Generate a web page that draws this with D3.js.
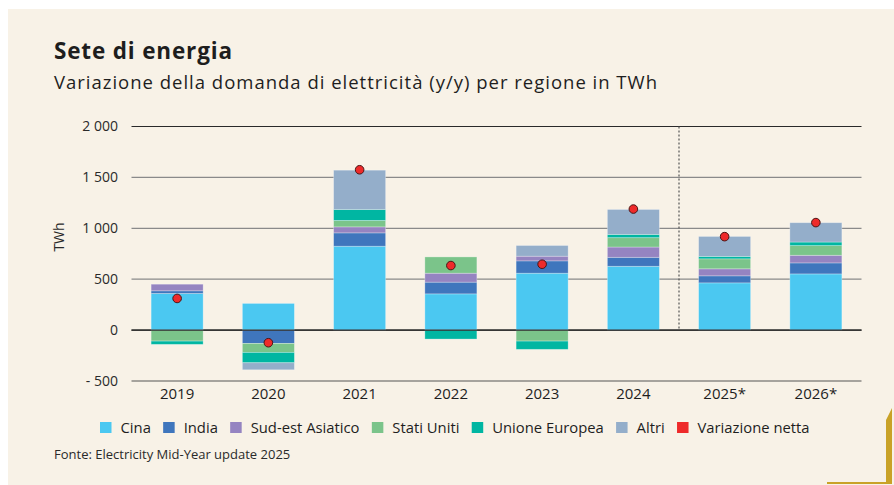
<!DOCTYPE html>
<html>
<head>
<meta charset="utf-8">
<script src="https://cdn.jsdelivr.net/npm/d3@7"></script>
<style>
  html, body { margin: 0; padding: 0; background: #ffffff; }
  svg { display: block; }
  text { font-family: "Open Sans", "Noto Sans", sans-serif; }
</style>
</head>
<body>
<svg id="chart" width="894" height="485"></svg>
<script>
// ---- Data ----
const categories = ["2019", "2020", "2021", "2022", "2023", "2024", "2025*", "2026*"];
const seriesNames = ["Cina", "India", "Sud-est Asiatico", "Stati Uniti", "Unione Europea", "Altri"];
const cina          = [360, 262, 824, 356, 559, 627, 464, 552];
const india         = [26, -131, 131, 115, 121, 88, 69, 108];
const sudEstAsiatico= [65, 0, 59, 88, 46, 101, 69, 75];
const statiUniti    = [-108, -88, 63, 160, -108, 92, 98, 95];
const unioneEuropea = [-32, -102, 108, -88, -81, 32, 24, 35];
const altri         = [0, -69, 386, 0, 105, 245, 196, 190];
const variazioneNetta = [311, -124, 1575, 634, 647, 1189, 918, 1056];
const yTicks = [-500, 0, 500, 1000, 1500, 2000];
const legendLabels = ["Cina", "India", "Sud-est Asiatico", "Stati Uniti", "Unione Europea", "Altri", "Variazione netta"];

const seriesValues = [cina, india, sudEstAsiatico, statiUniti, unioneEuropea, altri];
const colors = ["#4bc8f1", "#3f76bd", "#9584c1", "#7bc48a", "#00b6a2", "#94aeca"];
const netColor = "#ee2a2a";

const svg = d3.select("#chart");

// Panel background
svg.append("rect").attr("x", 8).attr("y", 9).attr("width", 886).attr("height", 476).attr("fill", "#f8f2e7");

// Gold corner decoration
svg.append("path")
  .attr("d", "M886,420 L892,408 L892,484 L827,484 L827,482 L886,482 Z")
  .attr("fill", "#c9a227");

// Title & subtitle
svg.append("text").attr("x", 54).attr("y", 59).attr("font-size", 22.5).attr("font-weight", 700)
  .attr("fill", "#1e1e1e").attr("textLength", 178).attr("lengthAdjust", "spacing").text("Sete di energia");
svg.append("text").attr("x", 54).attr("y", 89).attr("font-size", 18.5)
  .attr("fill", "#1e1e1e").attr("textLength", 603).attr("lengthAdjust", "spacing")
  .text("Variazione della domanda di elettricità (y/y) per regione in TWh");

// Scales
const x = d3.scaleBand().domain(categories).range([131.5, 861.5]).paddingInner(0.43).paddingOuter(0.215);
const y = d3.scaleLinear().domain([-500, 2000]).range([381, 126.5]);

// Gridlines
const gridColor = v => (v === 0 || v === 2000) ? "#2a2a2a" : (v === -500 ? "#555" : "#8a8a8a");
svg.append("g").selectAll("line").data(yTicks).join("line")
  .attr("x1", 131.5).attr("x2", 861.5)
  .attr("y1", d => y(d)).attr("y2", d => y(d))
  .attr("stroke", gridColor).attr("stroke-width", 1.2);

// Y axis labels
const fmt = v => {
  const s = d3.format(",")(Math.abs(v)).replace(/,/g, " ");
  return v < 0 ? "- " + s : s;
};
const yAxis = d3.axisLeft(y).tickValues(yTicks).tickSize(0).tickPadding(0).tickFormat(fmt);
const yg = svg.append("g").attr("transform", "translate(118,0)").call(yAxis);
yg.select(".domain").remove();
yg.selectAll("text").attr("font-size", 14).attr("fill", "#2a2a2a").attr("font-family", "'Open Sans', sans-serif");

// Y axis title
svg.append("text").attr("transform", "translate(64,237) rotate(-90)")
  .attr("text-anchor", "middle").attr("font-size", 14).attr("fill", "#2a2a2a").text("TWh");

// Stacked bars (diverging)
const posBase = categories.map(() => 0);
const negBase = categories.map(() => 0);
const barsG = svg.append("g");
seriesValues.forEach((vals, si) => {
  vals.forEach((v, i) => {
    if (!v) return;
    let y0, y1;
    if (v > 0) { y0 = posBase[i]; y1 = y0 + v; posBase[i] = y1; }
    else { y0 = negBase[i]; y1 = y0 + v; negBase[i] = y1; }
    barsG.append("rect")
      .attr("x", x(categories[i]))
      .attr("width", x.bandwidth())
      .attr("y", y(Math.max(y0, y1)))
      .attr("height", Math.abs(y(y0) - y(y1)))
      .attr("fill", colors[si])
      .attr("stroke", "rgba(255,255,255,0.35)")
      .attr("stroke-width", 0.8);
  });
});

// Zero line redraw on top
svg.append("line").attr("x1", 131.5).attr("x2", 861.5).attr("y1", y(0)).attr("y2", y(0))
  .attr("stroke", "#2a2a2a").attr("stroke-width", 1.2);

// Dashed separator between actuals and forecasts
const sepX = (x("2024") + x.bandwidth() + x("2025*")) / 2;
svg.append("line").attr("x1", sepX).attr("x2", sepX).attr("y1", y(2000)).attr("y2", y(0))
  .attr("stroke", "#555").attr("stroke-width", 1.2).attr("stroke-dasharray", "2,2");

// Net change dots
svg.append("g").selectAll("circle").data(variazioneNetta).join("circle")
  .attr("cx", (d, i) => x(categories[i]) + x.bandwidth() / 2)
  .attr("cy", d => y(d))
  .attr("r", 4.3)
  .attr("fill", netColor).attr("stroke", "#4a1515").attr("stroke-width", 1);

// X axis labels
const xAxis = d3.axisBottom(x).tickSize(0).tickPadding(0);
const xg = svg.append("g").attr("transform", "translate(0,385)").call(xAxis);
xg.select(".domain").remove();
xg.selectAll("text").attr("font-size", 15).attr("fill", "#1e1e1e").attr("dy", "0.9em")
  .attr("font-family", "'Open Sans', sans-serif");

// Legend
const legendColors = colors.concat([netColor]);
const lg = svg.append("g");
let lx = 100;
legendLabels.forEach((lab, i) => {
  lg.append("rect").attr("x", lx).attr("y", 422).attr("width", 11.5).attr("height", 11)
    .attr("fill", legendColors[i]);
  const t = lg.append("text").attr("x", lx + 20.5).attr("y", 433).attr("font-size", 14.8)
    .attr("fill", "#1e1e1e").text(lab);
  lx = lx + 20.5 + t.node().getComputedTextLength() + 12.3;
});

// Source
svg.append("text").attr("x", 54).attr("y", 459).attr("font-size", 13).attr("fill", "#2a2a2a")
  .text("Fonte: Electricity Mid-Year update 2025");
</script>
</body>
</html>
